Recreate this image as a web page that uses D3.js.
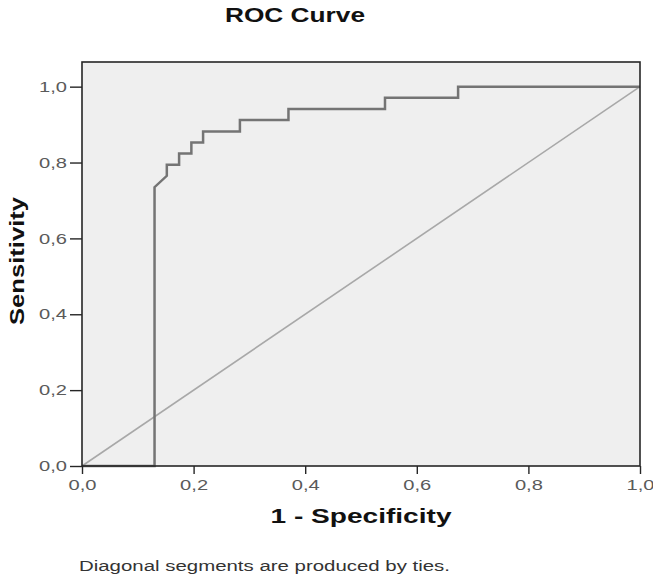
<!DOCTYPE html>
<html><head><meta charset="utf-8">
<script src="https://cdn.jsdelivr.net/npm/d3@7/dist/d3.min.js"></script>
<style>html,body{margin:0;padding:0;background:#fff;}svg{display:block;}</style>
</head><body>
<svg id="c" width="653" height="580"></svg>
<script>
// ---- data ----
const fpr = [0, 0.130, 0.130, 0.152, 0.152, 0.174, 0.174, 0.196, 0.196, 0.217, 0.217, 0.283, 0.283, 0.370, 0.370, 0.543, 0.543, 0.674, 0.674, 1.0];
const tpr = [0, 0, 0.735, 0.765, 0.794, 0.794, 0.824, 0.824, 0.853, 0.853, 0.882, 0.882, 0.912, 0.912, 0.941, 0.941, 0.971, 0.971, 1.0, 1.0];
const refX = [0, 1];
const refY = [0, 1];
const ticks = [0, 0.2, 0.4, 0.6, 0.8, 1.0];
const tickLabels = ["0,0", "0,2", "0,4", "0,6", "0,8", "1,0"];
const title = "ROC Curve";
const xTitle = "1 - Specificity";
const yTitle = "Sensitivity";
const footnote = "Diagonal segments are produced by ties.";

const svg = d3.select("#c");
const FONT = "'Liberation Sans', Arial, Helvetica, sans-serif";
const x = d3.scaleLinear().domain([0, 1]).range([82, 640]);
const y = d3.scaleLinear().domain([0, 1.065]).range([466, 62]);

// plot background
svg.append("rect").attr("x", x(0)).attr("y", y(1.065)).attr("width", x(1) - x(0)).attr("height", y(0) - y(1.065))
  .attr("fill", "#efefef").attr("stroke", "none");

// reference diagonal
const line = d3.line().x(d => x(d[0])).y(d => y(d[1]));
svg.append("path").datum(d3.zip(refX, refY)).attr("d", line)
  .attr("fill", "none").attr("stroke", "#a8a8a8").attr("stroke-width", 1.6);

// ROC curve
svg.append("path").datum(d3.zip(fpr, tpr)).attr("d", line)
  .attr("fill", "none").attr("stroke", "#747474").attr("stroke-width", 2.5).attr("stroke-linejoin", "miter");

// frame
svg.append("rect").attr("x", x(0)).attr("y", y(1.065)).attr("width", x(1) - x(0)).attr("height", y(0) - y(1.065))
  .attr("fill", "none").attr("stroke", "#262626").attr("stroke-width", 1.6);

// axes
const fmt = (d) => tickLabels[ticks.indexOf(d)];
const xa = svg.append("g").attr("transform", `translate(0,${y(0)})`)
  .call(d3.axisBottom(x).tickValues(ticks).tickFormat(fmt).tickSize(8).tickSizeOuter(0).tickPadding(5));
const ya = svg.append("g").attr("transform", `translate(${x(0)},0)`)
  .call(d3.axisLeft(y).tickValues(ticks).tickFormat(fmt).tickSize(12).tickSizeOuter(0).tickPadding(3));
[xa, ya].forEach(g => {
  g.select(".domain").remove();
  g.selectAll(".tick line").attr("stroke", "#262626").attr("stroke-width", 1.4);
  g.selectAll(".tick text").attr("font-family", FONT).attr("font-size", 14.5).attr("fill", "#5a5a5a")
    .attr("textLength", 28).attr("lengthAdjust", "spacingAndGlyphs");
});
xa.selectAll(".tick text").attr("dy", "0.75em");

// titles
svg.append("text").text(title).attr("x", 295).attr("y", 22).attr("text-anchor", "middle")
  .attr("font-family", FONT).attr("font-weight", "bold").attr("font-size", 21).attr("fill", "#111")
  .attr("textLength", 140).attr("lengthAdjust", "spacingAndGlyphs");
svg.append("text").text(xTitle).attr("x", (x(0) + x(1)) / 2).attr("y", 523).attr("text-anchor", "middle")
  .attr("font-family", FONT).attr("font-weight", "bold").attr("font-size", 21).attr("fill", "#111")
  .attr("textLength", 181).attr("lengthAdjust", "spacingAndGlyphs");
svg.append("text").text(yTitle).attr("transform", "translate(24,261) rotate(-90)").attr("text-anchor", "middle")
  .attr("font-family", FONT).attr("font-weight", "bold").attr("font-size", 21).attr("fill", "#111")
  .attr("textLength", 128).attr("lengthAdjust", "spacingAndGlyphs");
svg.append("text").text(footnote).attr("x", 79).attr("y", 571)
  .attr("font-family", FONT).attr("font-size", 15.5).attr("fill", "#333")
  .attr("textLength", 371).attr("lengthAdjust", "spacingAndGlyphs");
</script>
</body></html>
